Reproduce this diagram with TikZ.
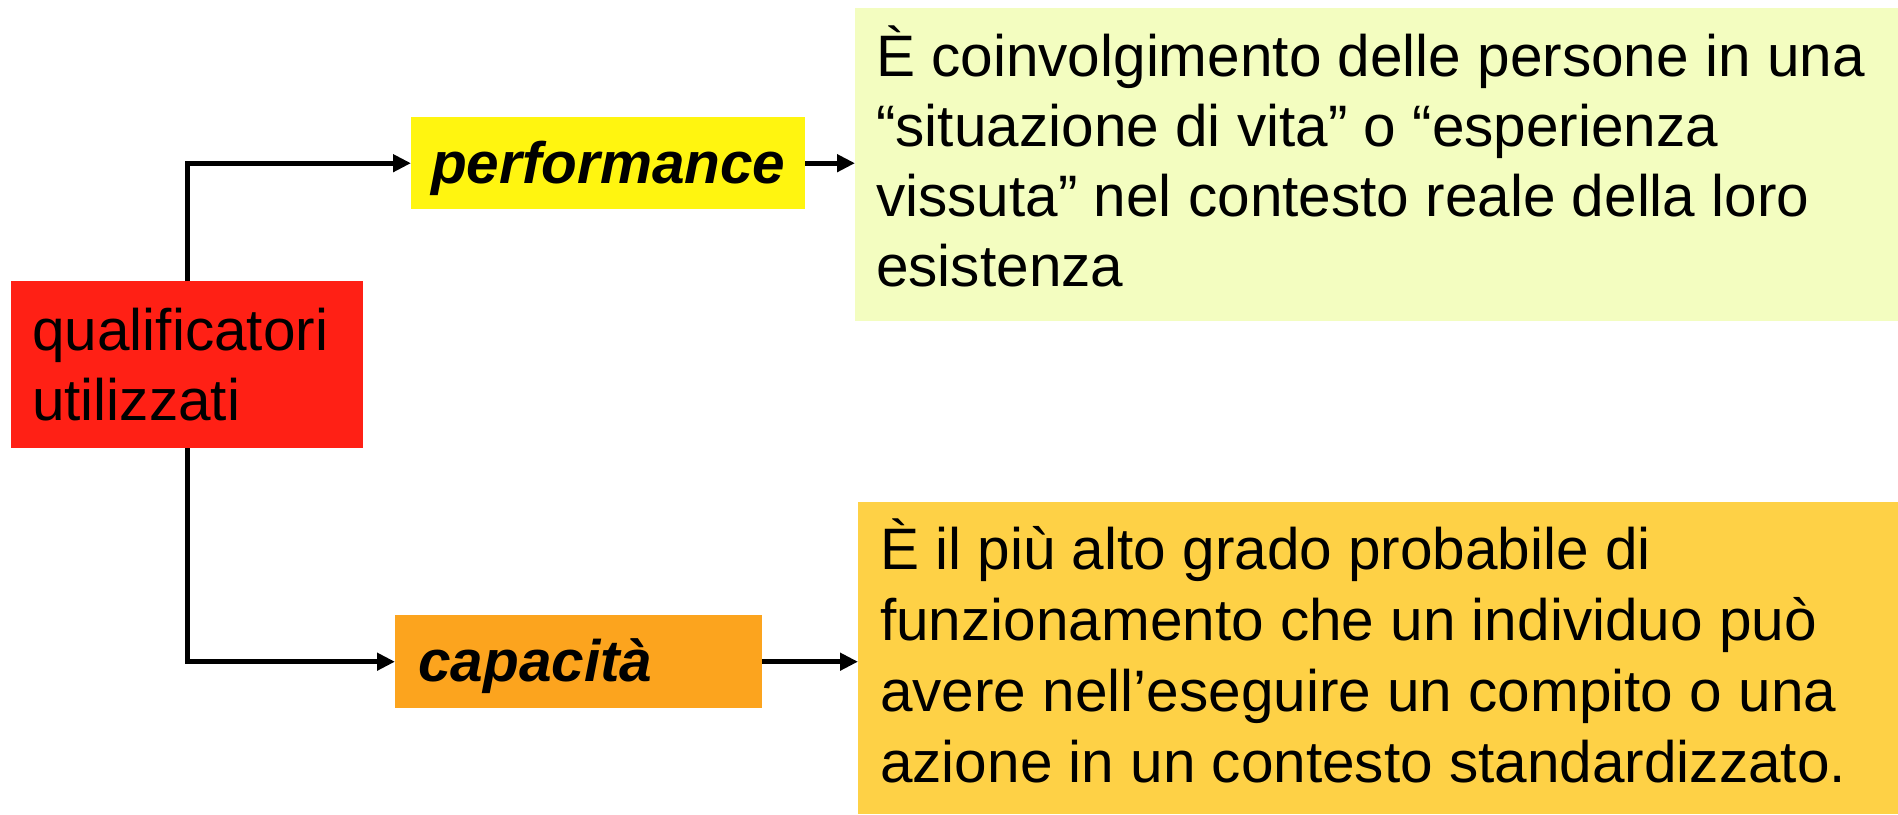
\documentclass[tikz,border=0pt]{standalone}
\usepackage{fontspec}
\setmainfont{Liberation Sans}
\usetikzlibrary{arrows.meta}
\definecolor{qred}{HTML}{FF2015}
\definecolor{qyellow}{HTML}{FFF510}
\definecolor{qorange}{HTML}{FCA41E}
\definecolor{qgreen}{HTML}{F3FDC0}
\definecolor{qgold}{HTML}{FED146}
\begin{document}
\begin{tikzpicture}[x=1pt,y=-1pt,
  box/.style={draw=none, inner sep=0pt, anchor=north west},
  conn/.style={line width=5pt, -{Triangle[length=18pt,width=17pt]}},
  big/.style={font=\fontsize{58.5}{70}\selectfont},
  bigbi/.style={font=\fontsize{58.5}{70}\selectfont\bfseries\itshape},
  para/.style={anchor=base west, inner sep=0pt}]
\useasboundingbox (0,0) rectangle (1898,814);

% boxes
\node[box, fill=qred, minimum width=352pt, minimum height=167pt,
      text width=310pt, inner xsep=21pt, align=left, big] (qual) at (11,281)
      {qualificatori\\utilizzati};
\node[box, fill=qyellow, minimum width=394pt, minimum height=92pt,
      text height=40pt, text depth=0pt, bigbi] (perf) at (411,117) {performance};
\node[box, fill=qorange, minimum width=367pt, minimum height=93pt,
      text width=321pt, inner xsep=23pt, align=left,
      text height=40pt, text depth=0pt, bigbi] (cap) at (395,615) {capacità};
\node[box, fill=qgreen, minimum width=1043pt, minimum height=313pt] (gbox) at (855,8) {};
\node[box, fill=qgold, minimum width=1040pt, minimum height=312pt] (ybox) at (858,502) {};

% texts in the description boxes
\node[para, font=\fontsize{58.5}{70}\selectfont] (gtext) at (876,76)
  {\parbox[t]{1010pt}{\raggedright È coinvolgimento delle persone in una\\
   “situazione di vita” o “esperienza\\
   vissuta” nel contesto reale della loro\\
   esistenza}};
\node[para, font=\fontsize{58.5}{71}\selectfont] (ytext) at (880,569)
  {\parbox[t]{1010pt}{\raggedright È il più alto grado probabile di\\
   funzionamento che un individuo può\\
   avere nell’eseguire un compito o una\\
   azione in un contesto standardizzato.}};

% connectors
\draw[conn] (qual.north) |- (perf.west);
\draw[conn] (qual.south) |- (cap.west);
\draw[conn] (perf.east) -- (perf.east -| gbox.west);
\draw[conn] (cap.east) -- (cap.east -| ybox.west);
\end{tikzpicture}
\end{document}
